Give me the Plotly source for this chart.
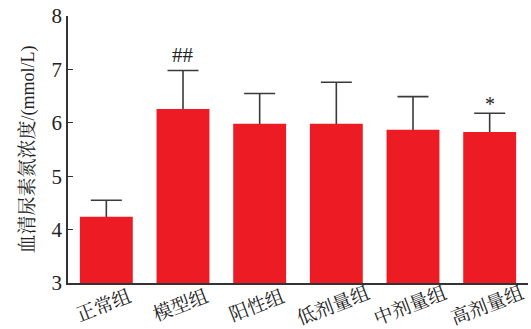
import plotly.graph_objects as go

categories = ["正常组", "模型组", "阳性组", "低剂量组", "中剂量组", "高剂量组"]
means = [4.24, 6.26, 5.98, 5.98, 5.87, 5.83]
errors = [0.31, 0.72, 0.57, 0.78, 0.62, 0.35]
marks = ["", "##", "", "", "", "*"]
y_ticks = [3, 4, 5, 6, 7, 8]
y_title_cn = "血清尿素氮浓度"
y_title_unit = "/(mmol/L)"

FONT = "Liberation Serif, Times New Roman, Noto Serif CJK SC, Noto Sans CJK SC, serif"

fig = go.Figure()
# error bars (drawn first, lower cap hidden under the bars)
fig.add_trace(go.Bar(
    x=categories, y=means, width=0.69,
    marker=dict(color="rgba(0,0,0,0)", line=dict(width=0)),
    error_y=dict(type="data", symmetric=False, array=errors,
                 arrayminus=[0.08] * len(errors),
                 color="#3a3a3a", thickness=1.6, width=15.5),
    hoverinfo="skip",
))
fig.add_trace(go.Bar(
    x=categories, y=means, width=0.69,
    marker=dict(color="#ED1C24", line=dict(width=0)),
))

annotations = []
for c, m, e, s in zip(categories, means, errors, marks):
    if s:
        annotations.append(dict(x=c, y=m + e, xref="x", yref="y", text=s,
                                showarrow=False, yanchor="bottom",
                                yshift=1 if s == "##" else -4,
                                font=dict(family=FONT, size=21 if s == "##" else 20,
                                          color="#222")))
for c in categories:
    annotations.append(dict(x=c, y=0, xref="x", yref="paper", text=c,
                            showarrow=False, yanchor="middle", xanchor="center",
                            xshift=-3, yshift=-22, textangle=-21,
                            font=dict(family=FONT, size=19, color="#222")))

fig.update_layout(
    width=531, height=329,
    margin=dict(l=68, r=3, t=16, b=46),
    paper_bgcolor="white", plot_bgcolor="white",
    showlegend=False, barmode="overlay",
    annotations=annotations,
    font=dict(family=FONT, color="#222"),
)
fig.update_xaxes(
    showline=True, linecolor="#333", linewidth=1.6,
    showticklabels=False, ticks="", showgrid=False,
    range=[-0.5, 5.5],
)
fig.update_yaxes(
    range=[3, 8], tickvals=y_ticks, ticks="inside", ticklen=5,
    tickwidth=1.4, tickcolor="#333",
    showline=True, linecolor="#333", linewidth=1.6,
    showgrid=False, zeroline=False,
    tickfont=dict(family=FONT, size=21, color="#222"),
    title=dict(text=f'<span style="font-size:19px">{y_title_cn}</span>{y_title_unit}',
               font=dict(family=FONT, size=18, color="#222"),
               standoff=12),
)

fig.write_html("out.html")
